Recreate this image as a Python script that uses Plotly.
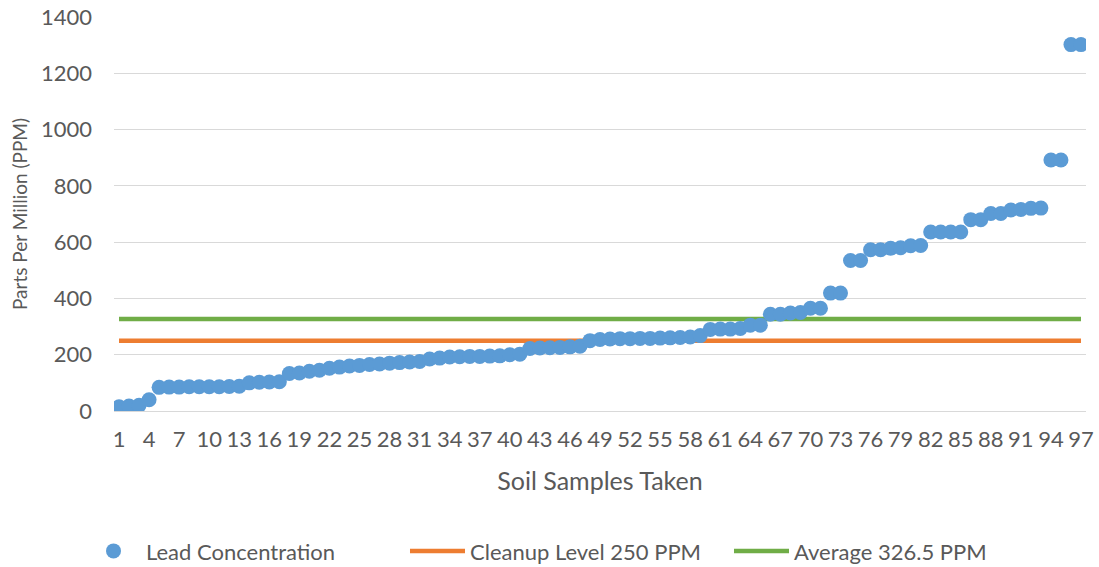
import plotly.graph_objects as go

samples = [str(i) for i in range(1, 98)]
lead_ppm = [
    15, 18, 20, 40, 84, 85, 85, 86, 86, 86,
    86, 87, 88, 100, 102, 103, 104, 133, 135, 141,
    145, 152, 156, 160, 162, 165, 167, 170, 172, 174,
    176, 185, 188, 192, 193, 194, 194, 195, 196, 200,
    202, 222, 224, 225, 226, 228, 230, 250, 254, 256,
    257, 257, 258, 258, 259, 260, 261, 263, 268, 290,
    291, 291, 293, 305, 305, 344, 344, 348, 350, 365,
    365, 419, 419, 535, 535, 573, 573, 578, 580, 587,
    588, 636, 636, 636, 636, 680, 680, 702, 702, 714,
    716, 720, 721, 892, 892, 1302, 1302,
]
cleanup_level = 250
average_level = 326.5
y_ticks = [0, 200, 400, 600, 800, 1000, 1200, 1400]

FONT = "Lato"
GREY = "#595959"

fig = go.Figure()
fig.add_trace(go.Scatter(
    x=samples, y=[cleanup_level] * len(samples), mode="lines",
    name="Cleanup Level 250 PPM", legendrank=2,
    line=dict(color="#ED7D31", width=4.5),
))
fig.add_trace(go.Scatter(
    x=samples, y=[average_level] * len(samples), mode="lines",
    name="Average 326.5 PPM", legendrank=3,
    line=dict(color="#70AD47", width=4.5),
))
fig.add_trace(go.Scatter(
    x=samples, y=lead_ppm, mode="markers",
    name="Lead Concentration", legendrank=1,
    marker=dict(color="#5B9BD5", size=15, line=dict(width=0)),
))

fig.update_layout(
    width=1099, height=567,
    margin=dict(l=114, r=13, t=17, b=156),
    paper_bgcolor="white", plot_bgcolor="white",
    font=dict(family=FONT, size=22, color=GREY),
    showlegend=True,
    legend=dict(
        orientation="h", xref="container", yref="container",
        x=0.0737, xanchor="left", y=0.028, yanchor="middle",
        entrywidth=254, itemwidth=55,
        font=dict(family=FONT, size=22, color=GREY),
        traceorder="normal",
    ),
)
fig.update_xaxes(
    type="category", range=[-0.5, 96.5], dtick=3, tick0=0, automargin=False,
    showgrid=False, showline=True, linecolor="#D9D9D9", linewidth=1,
    ticks="", ticklabelstandoff=9,
    tickfont=dict(family=FONT, size=22, color=GREY),
    title=dict(text="Soil Samples Taken", standoff=21,
               font=dict(family=FONT, size=25, color=GREY)),
)
fig.update_yaxes(
    range=[0, 1400], tickvals=y_ticks, ticktext=[str(v) for v in y_ticks],
    automargin=False,
    showgrid=True, gridcolor="#D9D9D9", gridwidth=1, zeroline=False,
    showline=False, ticks="", ticklabelstandoff=21,
    tickfont=dict(family=FONT, size=22, color=GREY),
    title=dict(text="Parts Per Million (PPM)", standoff=8,
               font=dict(family=FONT, size=19, color=GREY)),
)

fig.write_html("out.html")
